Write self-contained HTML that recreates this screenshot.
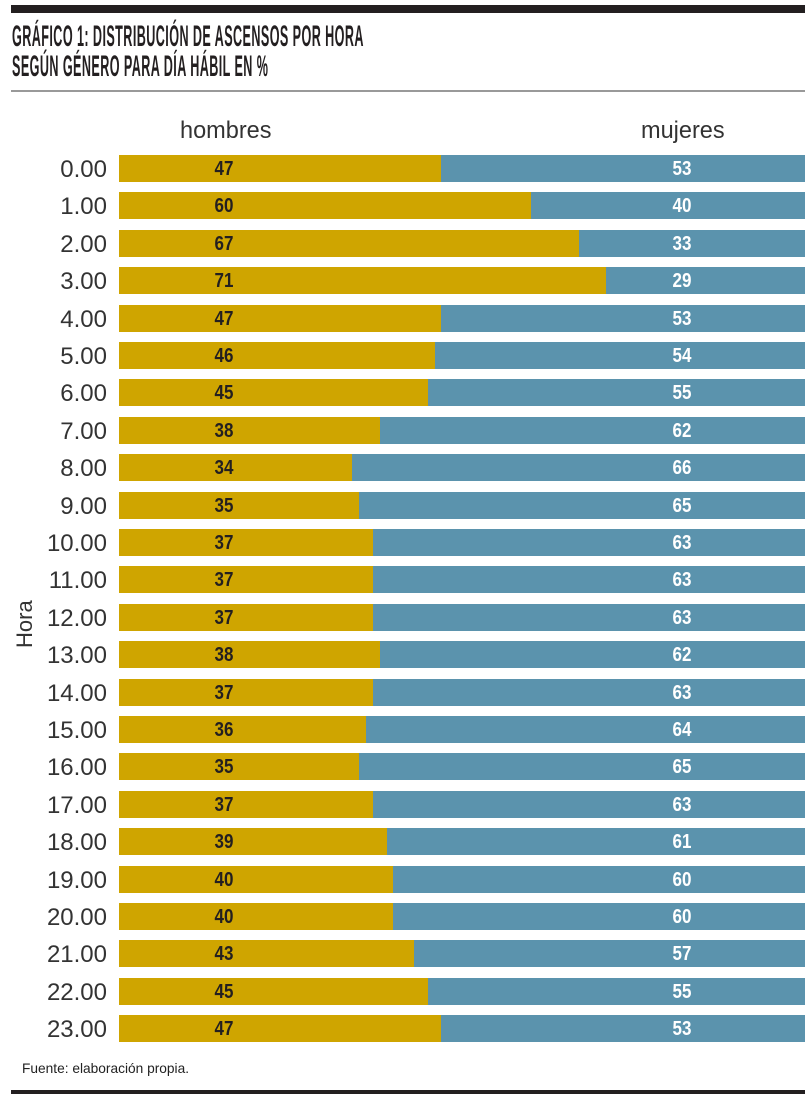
<!DOCTYPE html>
<html><head><meta charset="utf-8"><style>
body{margin:0;width:810px;height:1099px;background:#fff;position:relative;overflow:hidden;font-family:"Liberation Sans",sans-serif}
.t{position:absolute;left:12px;font-weight:bold;font-size:30px;color:#231f20;transform:scaleX(0.42);transform-origin:0 0;white-space:nowrap;letter-spacing:1px}
.row{position:absolute;left:119px;width:686px;height:27px;display:flex}
.h{background:#cfa500;height:100%}
.m{background:#5b93ad;height:100%;flex:1}
.n{position:absolute;top:0;height:27px;line-height:28px;font-weight:bold;font-size:20px;transform:scaleX(0.85);width:60px;text-align:center}
.lab{position:absolute;right:703px;font-size:24px;color:#333;height:27px;line-height:30px}
</style></head><body>
<div style="position:absolute;left:11px;top:5px;width:794px;height:8px;background:#231f20"></div>
<div class="t" style="top:20px">GRÁFICO 1: DISTRIBUCIÓN DE ASCENSOS POR HORA</div>
<div class="t" style="top:50px">SEGÚN GÉNERO PARA DÍA HÁBIL EN %</div>
<div style="position:absolute;left:11px;top:90px;width:794px;height:2px;background:#999"></div>
<div style="position:absolute;left:180px;top:117px;font-size:24px;color:#333;transform:scaleX(0.98);transform-origin:0 0">hombres</div>
<div style="position:absolute;left:641px;top:117px;font-size:24px;color:#333;transform:scaleX(0.98);transform-origin:0 0">mujeres</div>
<div style="position:absolute;left:12px;top:648px;font-size:22px;color:#333;transform:rotate(-90deg);transform-origin:0 0">Hora</div>
<div id="c"></div>
<div style="position:absolute;left:22px;top:1060px;font-size:14px;color:#222;transform:scaleX(0.98);transform-origin:0 0">Fuente: elaboración propia.</div>
<div style="position:absolute;left:11px;top:1090px;width:794px;height:4px;background:#231f20"></div>
<script>
var d=[47,60,67,71,47,46,45,38,34,35,37,37,37,38,37,36,35,37,39,40,40,43,45,47];
var h='';
d.forEach(function(v,i){var y=155+i*37.4;
h+='<div class="lab" style="top:'+y+'px">'+i+'.00</div>';
h+='<div class="row" style="top:'+y+'px"><div class="h" style="width:'+(v*6.86)+'px"></div><div class="m"></div>';
h+='<div class="n" style="left:75px;color:#231f20">'+v+'</div><div class="n" style="left:533px;color:#fff">'+(100-v)+'</div></div>';});
document.getElementById('c').innerHTML=h;
</script>
</body></html>
